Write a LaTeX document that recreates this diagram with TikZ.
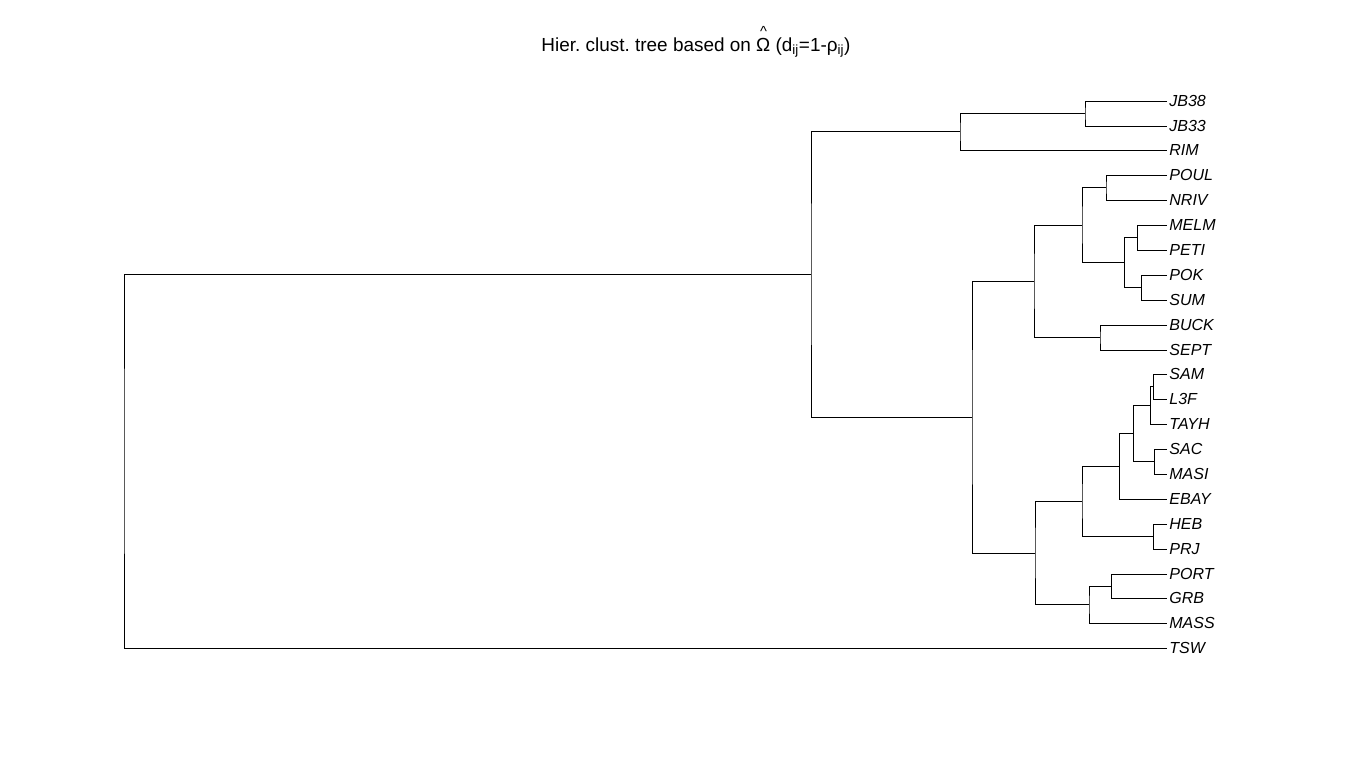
\documentclass[tikz,border=0pt]{standalone}
\usepackage{fontspec}
\setmainfont{Liberation Sans}
\frenchspacing
\tikzset{every picture/.style={line width=0.6pt}}
\tikzset{
	leaf/.style={anchor=west, inner xsep=1.5pt, inner ysep=0pt, font=\fontsize{12}{14}\selectfont\itshape},
	title/.style={font=\fontsize{14.2}{16}\selectfont}}
\newcommand{\omhat}{\makebox[0pt][l]{\makebox[0.78em]{\raisebox{0.82em}{\fontsize{11}{11}\selectfont\^{}}}}Ω}

\begin{document}
\begin{tikzpicture}[x=0.75pt,y=0.75pt,yscale=-1,xscale=1]
	\useasboundingbox (0,0) rectangle (1354,768);

	% Text Node
	\node[title] (caption) at (696,42) {Hier. clust. tree based on \omhat{} (d\textsubscript{ij}=1-ρ\textsubscript{ij})};

	% Leaves
	\foreach \name/\y in {JB38/101,JB33/126,RIM/150,POUL/175,NRIV/200,MELM/225,PETI/250,POK/275,SUM/300,BUCK/325,SEPT/350,SAM/374,L3F/399,TAYH/424,SAC/449,MASI/474,EBAY/499,HEB/524,PRJ/549,PORT/574,GRB/598,MASS/623,TSW/648}
		\node[leaf] (\name) at (1167,\y) {\name};

	% Merge points
	\coordinate (mJB) at (1085,113.5);
	\coordinate (mRIM) at (960,131.75);
	\coordinate (mPOUL) at (1106,187.5);
	\coordinate (mMELM) at (1137,237.5);
	\coordinate (mPOK) at (1141,287.5);
	\coordinate (mPETI) at (1124,262.5);
	\coordinate (mNRIV) at (1082,225);
	\coordinate (mBUCK) at (1100,337.5);
	\coordinate (mSEPT) at (1034,281);
	\coordinate (mSAM) at (1153,386.5);
	\coordinate (mTAYH) at (1150,405);
	\coordinate (mSAC) at (1154,461.5);
	\coordinate (mMASI) at (1133,433);
	\coordinate (mEBAY) at (1119,466);
	\coordinate (mHEB) at (1153,536.5);
	\coordinate (mPRJ) at (1082,501);
	\coordinate (mPORT) at (1111,586);
	\coordinate (mMASS) at (1089,604.5);
	\coordinate (mGRB) at (1035,553);
	\coordinate (mMID) at (972,417);
	\coordinate (mTOP) at (811,274);
	\coordinate (mROOT) at (124,461);

	%Straight Lines
	\draw (JB38.west) -| (mJB) |- (JB33.west);
	\draw (mJB) -| (mRIM) |- (RIM.west);
	\draw (POUL.west) -| (mPOUL) |- (NRIV.west);
	\draw (MELM.west) -| (mMELM) |- (PETI.west);
	\draw (POK.west) -| (mPOK) |- (SUM.west);
	\draw (mMELM) -| (mPETI) |- (mPOK);
	\draw (mPOUL) -| (mNRIV) |- (mPETI);
	\draw (BUCK.west) -| (mBUCK) |- (SEPT.west);
	\draw (mNRIV) -| (mSEPT) |- (mBUCK);
	\draw (SAM.west) -| (mSAM) |- (L3F.west);
	\draw (mSAM) -| (mTAYH) |- (TAYH.west);
	\draw (SAC.west) -| (mSAC) |- (MASI.west);
	\draw (mTAYH) -| (mMASI) |- (mSAC);
	\draw (mMASI) -| (mEBAY) |- (EBAY.west);
	\draw (HEB.west) -| (mHEB) |- (PRJ.west);
	\draw (mEBAY) -| (mPRJ) |- (mHEB);
	\draw (PORT.west) -| (mPORT) |- (GRB.west);
	\draw (mPORT) -| (mMASS) |- (MASS.west);
	\draw (mPRJ) -| (mGRB) |- (mMASS);
	\draw (mSEPT) -| (mMID) |- (mGRB);
	\draw (mRIM) -| (mTOP) |- (mMID);
	\draw (mTOP) -| (mROOT) |- (TSW.west);

\end{tikzpicture}
\end{document}
